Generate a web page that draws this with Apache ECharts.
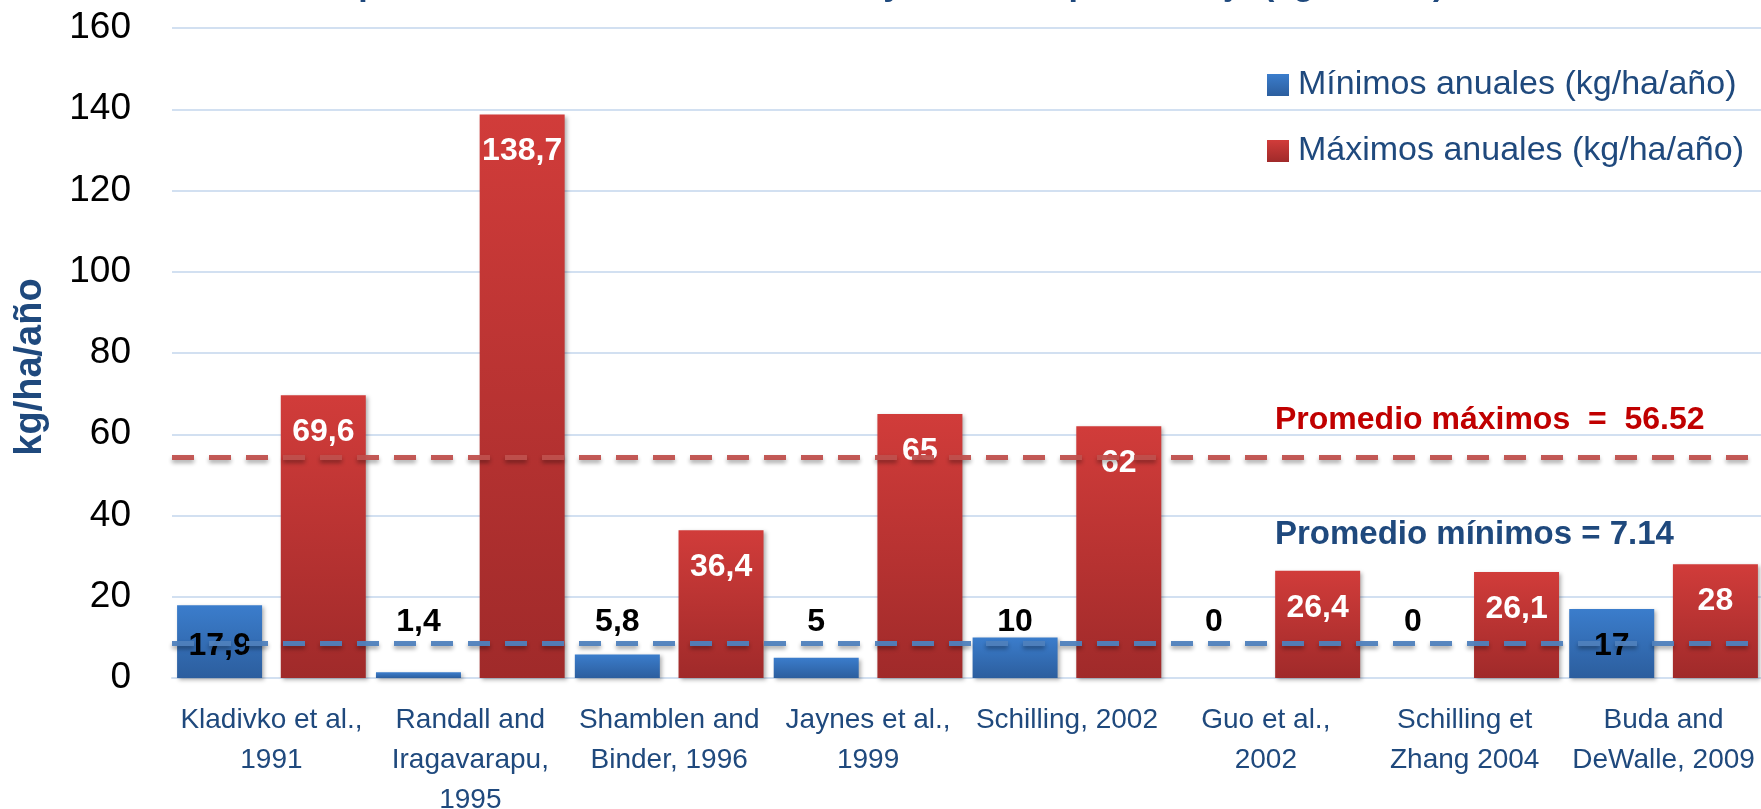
<!DOCTYPE html>
<html>
<head>
<meta charset="utf-8">
<script src="https://cdn.jsdelivr.net/npm/echarts@6/dist/echarts.min.js"></script>
<style>
  html, body { margin: 0; padding: 0; background: #fff; }
  #main { width: 1761px; height: 809px; }
</style>
</head>
<body>
<div id="main"></div>
<script>
// datos
var estudios = ['Kladivko et al.,\n1991', 'Randall and\nIragavarapu,\n1995', 'Shamblen and\nBinder, 1996', 'Jaynes et al.,\n1999',
    'Schilling, 2002', 'Guo et al.,\n2002', 'Schilling et\nZhang 2004', 'Buda and\nDeWalle, 2009']
var minimos = [17.9, 1.4, 5.8, 5, 10, 0, 0, 17]
var maximos = [69.6, 138.7, 36.4, 65, 62, 26.4, 26.1, 28]
var promedioMax = 54.4   // posición de la línea en el dibujo
var promedioMin = 8.6
var textoMax = 'Promedio máximos  =  56.52'
var textoMin = 'Promedio mínimos = 7.14'
var ticksY = [0, 20, 40, 60, 80, 100, 120, 140, 160]

var FONT = "'Liberation Sans', Arial, sans-serif"
var azulOscuro = '#1F497D'

var myChart = echarts.init(document.getElementById('main'))

function coma(v) {
    return String(v).replace('.', ',')
}

var sombra = {
    shadowBlur: 4,
    shadowOffsetX: 2,
    shadowOffsetY: 2,
    shadowColor: 'rgba(0,0,0,0.3)'
}

var datosMin = minimos.map(function (v) {
    return {
        value: v,
        label: { position: 'insideBottom', distance: v >= 15 ? 16 : 40 }
    }
})

var option = {
    animation: false,
    backgroundColor: '#fff',
    title: {
        text: 'Exportación de N-nitrato: mínimos y máximos por drenaje (kg/ha/año)',
        left: 'center',
        top: -36,
        textStyle: { color: azulOscuro, fontSize: 34, fontWeight: 'bold', fontFamily: FONT }
    },
    legend: {
        orient: 'vertical',
        left: 1262,
        top: 60,
        itemWidth: 22,
        itemHeight: 22,
        itemGap: 26,
        icon: 'rect',
        textStyle: { color: azulOscuro, fontSize: 34, lineHeight: 40, fontFamily: FONT, padding: [0, 0, 0, 4] },
        data: ['Mínimos anuales (kg/ha/año)', 'Máximos anuales (kg/ha/año)']
    },
    grid: {
        left: 172,
        right: -2,
        top: 28,
        bottom: 131,
        outerBoundsMode: 'none'
    },
    xAxis: {
        type: 'category',
        data: estudios,
        axisTick: { show: false },
        axisLine: { show: true, lineStyle: { color: '#D2E0F1', width: 2 } },
        axisLabel: {
            interval: 0,
            margin: 22,
            color: azulOscuro,
            fontSize: 28,
            lineHeight: 40,
            fontFamily: FONT
        }
    },
    yAxis: {
        type: 'value',
        min: ticksY[0],
        max: ticksY[ticksY.length - 1],
        interval: 20,
        axisLine: { show: false },
        axisTick: { show: false },
        axisLabel: { color: '#000', fontSize: 37, margin: 41, fontFamily: FONT },
        splitLine: { lineStyle: { color: '#D2E0F1', width: 2 } }
    },
    series: [{
        name: 'Mínimos anuales (kg/ha/año)',
        type: 'bar',
        barWidth: 85,
        barGap: '22%',
        data: datosMin,
        itemStyle: Object.assign({
            color: new echarts.graphic.LinearGradient(0, 0, 0, 1, [
                { offset: 0, color: '#3B7DCC' },
                { offset: 1, color: '#2C5E9E' }
            ])
        }, sombra),
        label: {
            show: true,
            color: '#000',
            fontSize: 32,
            fontWeight: 'bold',
            fontFamily: FONT,
            formatter: function (p) { return coma(p.value) }
        },
        markLine: {
            silent: true,
            symbol: 'none',
            label: { show: false },
            lineStyle: Object.assign({ color: '#4F81BD', width: 5, type: [22, 15], opacity: 0.95 },
                { shadowBlur: 4, shadowOffsetY: 3, shadowColor: 'rgba(0,0,0,0.35)' }),
            data: [{ yAxis: promedioMin }]
        }
    }, {
        name: 'Máximos anuales (kg/ha/año)',
        type: 'bar',
        barWidth: 85,
        data: maximos,
        itemStyle: Object.assign({
            color: new echarts.graphic.LinearGradient(0, 0, 0, 1, [
                { offset: 0, color: '#D13C3A' },
                { offset: 1, color: '#A02A2A' }
            ])
        }, sombra),
        label: {
            show: true,
            position: 'insideTop',
            distance: 21,
            color: '#fff',
            fontSize: 32,
            fontWeight: 'bold',
            fontFamily: FONT,
            formatter: function (p) { return coma(p.value) }
        },
        markLine: {
            silent: true,
            symbol: 'none',
            label: { show: false },
            lineStyle: Object.assign({ color: '#C0504D', width: 5, type: [22, 15], opacity: 0.95 },
                { shadowBlur: 4, shadowOffsetY: 3, shadowColor: 'rgba(0,0,0,0.35)' }),
            data: [{ yAxis: promedioMax }]
        }
    }],
    graphic: [{
        type: 'text',
        left: 1275,
        top: 404,
        style: { text: textoMax, fill: '#C00000', fontSize: 32, fontWeight: 'bold', fontFamily: FONT }
    }, {
        type: 'text',
        left: 1275,
        top: 518,
        style: { text: textoMin, fill: azulOscuro, fontSize: 33, fontWeight: 'bold', fontFamily: FONT }
    }, {
        // título del eje y
        type: 'text',
        x: 31,
        y: 367,
        rotation: Math.PI / 2,
        style: {
            text: 'kg/ha/año', fill: azulOscuro, fontSize: 38, fontWeight: 'bold', fontFamily: FONT,
            textAlign: 'center', textVerticalAlign: 'middle'
        }
    }]
}

myChart.setOption(option)
</script>
</body>
</html>
